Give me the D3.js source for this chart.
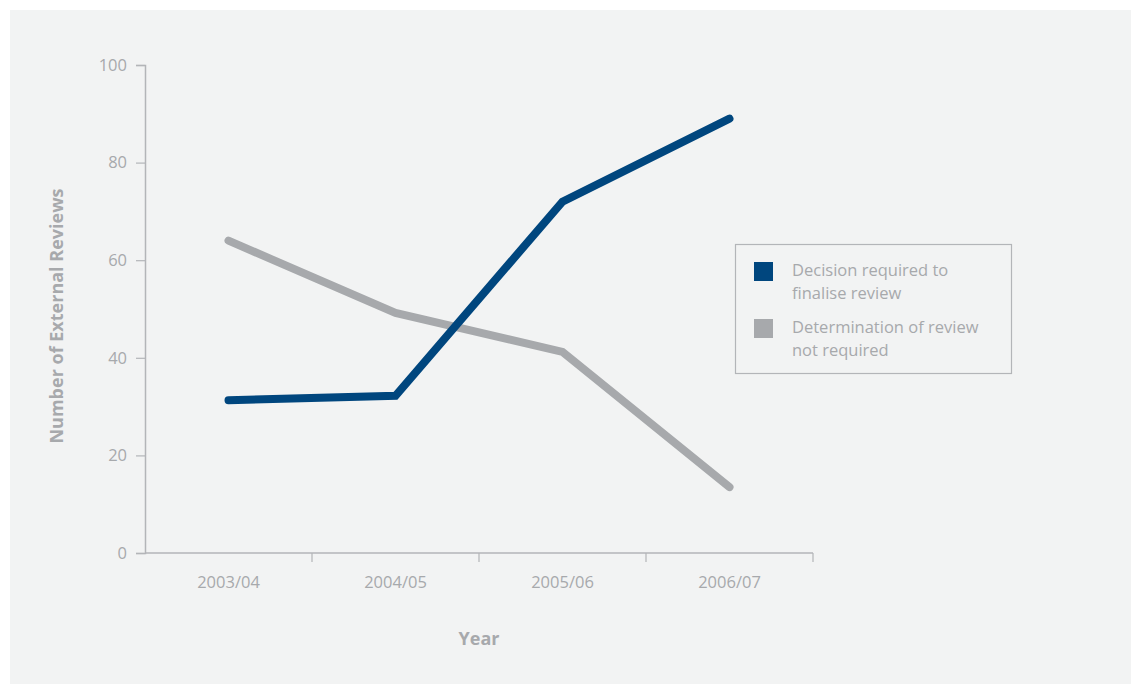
<!DOCTYPE html>
<html>
<head>
<meta charset="utf-8">
<script src="https://cdn.jsdelivr.net/npm/d3@7"></script>
<style>
  html, body { margin: 0; padding: 0; background: #ffffff; }
  svg { display: block; }
  text { font-family: "Open Sans", "Noto Sans", sans-serif; }
</style>
</head>
<body>
<svg id="chart" width="1131" height="684"></svg>
<script>
// Review counts per financial year
const years = ["2003/04", "2004/05", "2005/06", "2006/07"];
const decisionRequired = [31.3, 32.2, 72, 89];
const reviewNotRequired = [64, 49.2, 41.2, 13.5];
const yTicks = [0, 20, 40, 60, 80, 100];
const seriesNames = [
  ["Decision required to", "finalise review"],
  ["Determination of review", "not required"]
];
const seriesColors = ["#00467e", "#a7a9ac"];

const textColor = "#a7a9ac";
const axisColor = "#b3b5b8";

const svg = d3.select("#chart");

// background panel
svg.append("rect")
  .attr("x", 10).attr("y", 10)
  .attr("width", 1121).attr("height", 674)
  .attr("fill", "#f2f3f3");

const plot = { left: 145, right: 813, top: 65, bottom: 553 };

const x = d3.scaleBand().domain(years).range([plot.left, plot.right]);
const y = d3.scaleLinear().domain([0, 100]).range([plot.bottom, plot.top]);

// y axis
const yAxis = svg.append("g")
  .attr("transform", `translate(${plot.left},0)`)
  .call(d3.axisLeft(y).tickValues(yTicks).tickSize(9).tickPadding(9));
yAxis.select(".domain").attr("stroke", axisColor).attr("stroke-width", 1.5);
yAxis.selectAll(".tick line").attr("stroke", axisColor).attr("stroke-width", 1.2);
yAxis.selectAll(".tick text")
  .attr("fill", textColor)
  .style("font-size", "16.5px");

// x axis: ticks sit on band boundaries, labels in band centres
const xAxisG = svg.append("g")
  .attr("transform", `translate(0,${plot.bottom})`);
xAxisG.append("line")
  .attr("x1", plot.left).attr("x2", plot.right)
  .attr("y1", 0).attr("y2", 0)
  .attr("stroke", axisColor).attr("stroke-width", 1.5);
const bounds = years.map(d => x(d)).concat([x(years[years.length - 1]) + x.bandwidth()]).slice(1);
xAxisG.selectAll("line.tick")
  .data(bounds)
  .join("line")
  .attr("class", "tick")
  .attr("x1", d => d).attr("x2", d => d)
  .attr("y1", 0).attr("y2", 9)
  .attr("stroke", axisColor).attr("stroke-width", 1.2);
xAxisG.selectAll("text.lbl")
  .data(years)
  .join("text")
  .attr("class", "lbl")
  .attr("x", d => x(d) + x.bandwidth() / 2)
  .attr("y", 35)
  .attr("text-anchor", "middle")
  .attr("fill", textColor)
  .style("font-size", "16.5px")
  .text(d => d);

// axis titles
svg.append("text")
  .attr("transform", `translate(63,316) rotate(-90)`)
  .attr("text-anchor", "middle")
  .attr("fill", textColor)
  .style("font-size", "18px")
  .style("font-weight", "bold")
  .text("Number of External Reviews");

svg.append("text")
  .attr("x", 479).attr("y", 645)
  .attr("text-anchor", "middle")
  .attr("fill", textColor)
  .style("font-size", "18px")
  .style("font-weight", "bold")
  .text("Year");

// lines
const line = d3.line()
  .x((d, i) => x(years[i]) + x.bandwidth() / 2)
  .y(d => y(d));

[reviewNotRequired, decisionRequired].forEach((vals, k) => {
  svg.append("path")
    .datum(vals)
    .attr("d", line)
    .attr("fill", "none")
    .attr("stroke", seriesColors[1 - k])
    .attr("stroke-width", 8)
    .attr("stroke-linecap", "round")
    .attr("stroke-linejoin", "miter");
});

// legend
const legend = svg.append("g").attr("transform", "translate(735,244)");
legend.append("rect")
  .attr("x", 0.5).attr("y", 0.5)
  .attr("width", 276).attr("height", 129)
  .attr("fill", "none")
  .attr("stroke", axisColor)
  .attr("stroke-width", 1.2);
seriesNames.forEach((lines, i) => {
  const g = legend.append("g").attr("transform", `translate(0,${18 + i * 57})`);
  g.append("rect")
    .attr("x", 19).attr("y", 0)
    .attr("width", 19).attr("height", 19)
    .attr("fill", seriesColors[i]);
  const t = g.append("text")
    .attr("x", 57).attr("y", 14)
    .attr("fill", textColor)
    .style("font-size", "16.5px");
  lines.forEach((s, j) => {
    t.append("tspan").attr("x", 57).attr("dy", j === 0 ? 0 : 22.5).text(s);
  });
});
</script>
</body>
</html>
